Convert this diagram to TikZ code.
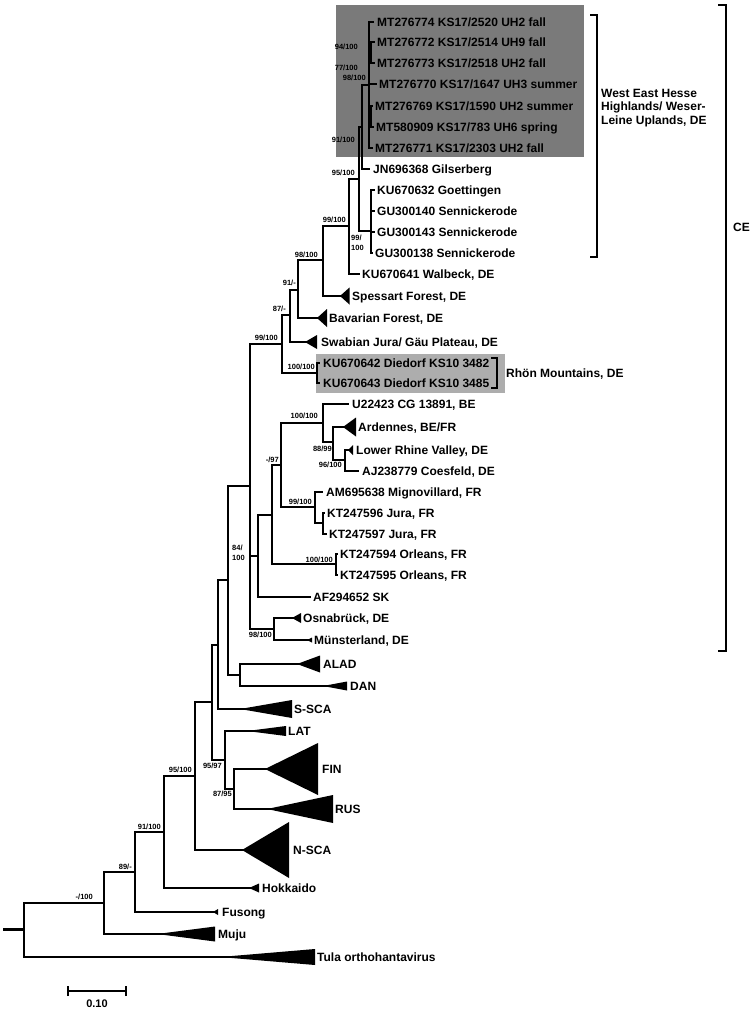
\documentclass[tikz,border=0pt]{standalone}
\usepackage{fontspec}
\setmainfont{Liberation Sans}
\definecolor{boxdark}{gray}{0.48}
\definecolor{boxlight}{gray}{0.68}
\tikzset{
  br/.style={line width=2.9bp, line join=miter},
  lab/.style={anchor=west, inner sep=0pt, font=\fontsize{12bp}{14bp}\selectfont\bfseries, text height=8.6bp, text depth=0pt},
  sv/.style={anchor=east, inner sep=0pt, font=\fontsize{7.5bp}{8bp}\selectfont\bfseries, text height=5.4bp, text depth=0pt},
  svl/.style={sv, anchor=west},
  brk/.style={line width=2.3bp, line join=miter},
  tri/.style={fill=black}
}
\newcommand\cladetri[3]{\fill[tri] (#1) -- ++(#2,-#3) -- ++(0,{2*#3}) -- cycle;
  \draw[br] (#1) -- ++({0.5*#2},0);}
\begin{document}
\begin{tikzpicture}[x=1bp,y=-1bp]
\useasboundingbox (0,0) rectangle (750,1009);
% background boxes
\fill[boxdark] (336,5) rectangle (584,157);
\fill[boxlight] (316,354) rectangle (505,393);
% internal nodes
\coordinate (stem) at (3,929.5);
\coordinate (R) at (24,929.5);
\coordinate (A) at (104,903);
\coordinate (B) at (135,872);
\coordinate (C) at (164,832);
\coordinate (D) at (195,776);
\coordinate (E) at (212,702);
\coordinate (F) at (218,645);
\coordinate (G) at (225,760);
\coordinate (H) at (234,789);
\coordinate (I) at (228,580);
\coordinate (J) at (250,486);
\coordinate (K) at (240,675);
\coordinate (L) at (282,344);
\coordinate (M) at (258,556);
\coordinate (N) at (274,629);
\coordinate (O) at (272,515);
\coordinate (P) at (281,465);
\coordinate (Q) at (336,564);
\coordinate (S) at (323,423);
\coordinate (T) at (315,507);
\coordinate (U) at (323,523);
\coordinate (V) at (333,442);
\coordinate (W) at (345,460);
\coordinate (X) at (290,315);
\coordinate (Y) at (298,290);
\coordinate (Z) at (323,260);
\coordinate (AA) at (349,226);
\coordinate (N95) at (359,179);
\coordinate (N91) at (362,127);
\coordinate (MT) at (369,85);
\coordinate (MTa) at (371,52.5);
\coordinate (MTb) at (371,116.5);
\coordinate (SN) at (371,231);
\coordinate (RH) at (317,373);
% leaf ends / clade tips
\coordinate (tula) at (220,957);
\coordinate (muju) at (157,934);
\coordinate (fus) at (213,912);
\coordinate (hok) at (249,888);
\coordinate (nsca) at (242,850);
\coordinate (lat) at (247,731);
\coordinate (fin) at (265,769);
\coordinate (rus) at (267,809);
\coordinate (ssca) at (240,709);
\coordinate (alad) at (297,664);
\coordinate (dan) at (323,686);
\coordinate (osn) at (292,618);
\coordinate (mun) at (307,640);
\coordinate (af) at (311,597);
\coordinate (orl1) at (338,554);
\coordinate (orl2) at (338,575);
\coordinate (am) at (323,492);
\coordinate (kt6) at (325,513);
\coordinate (kt7) at (327,534);
\coordinate (u22) at (349,404);
\coordinate (ard) at (343,427);
\coordinate (lrv) at (348,450);
\coordinate (coe) at (359,471);
\coordinate (ku2) at (320,363);
\coordinate (ku3) at (320,383);
\coordinate (swab) at (305,342);
\coordinate (bav) at (317,318);
\coordinate (spes) at (340,296);
\coordinate (walb) at (360,274);
\coordinate (gil) at (370,169);
\coordinate (mt1) at (374,22);
\coordinate (mt2) at (375,42);
\coordinate (mt3) at (375,63);
\coordinate (mt4) at (377,84);
\coordinate (mt5) at (373,106);
\coordinate (mt6) at (374,127);
\coordinate (mt7) at (373,148);
\coordinate (sn1) at (375,190);
\coordinate (sn2) at (375,211);
\coordinate (sn3) at (375,232);
\coordinate (sn4) at (373,253);
% branches
\draw[br] (stem) -- (R);
\draw[br] (R) |- (A) (R) |- (tula);
\draw[br] (A) |- (B) (A) |- (muju);
\draw[br] (B) |- (C) (B) |- (fus);
\draw[br] (C) |- (D) (C) |- (hok);
\draw[br] (D) |- (E) (D) |- (nsca);
\draw[br] (E) |- (F) (E) |- (G);
\draw[br] (G) |- (lat) (G) |- (H);
\draw[br] (H) |- (fin) (H) |- (rus);
\draw[br] (F) |- (I) (F) |- (ssca);
\draw[br] (I) |- (J) (I) |- (K);
\draw[br] (K) |- (alad) (K) |- (dan);
\draw[br] (J) |- (L) (J) |- (M) (J) |- (N);
\draw[br] (N) |- (osn) (N) |- (mun);
\draw[br] (M) |- (O) (M) |- (af);
\draw[br] (O) |- (P) (O) |- (Q);
\draw[br] (Q) |- (orl1) (Q) |- (orl2);
\draw[br] (P) |- (S) (P) |- (T);
\draw[br] (T) |- (am) (T) |- (U);
\draw[br] (U) |- (kt6) (U) |- (kt7);
\draw[br] (S) |- (u22) (S) |- (V);
\draw[br] (V) |- (ard) (V) |- (W);
\draw[br] (W) |- (lrv) (W) |- (coe);
\draw[br] (L) |- (X) (L) |- (RH);
\draw[br] (RH) |- (ku2) (RH) |- (ku3);
\draw[br] (X) |- (Y) (X) |- (swab);
\draw[br] (Y) |- (Z) (Y) |- (bav);
\draw[br] (Z) |- (AA) (Z) |- (spes);
\draw[br] (AA) |- (N95) (AA) |- (walb);
\draw[br] (N95) |- (N91) (N95) |- (SN);
\draw[br] (N91) |- (MT) (N91) |- (gil);
\draw[br] (MT) |- (mt1) (MT) |- (MTa) (MT) |- (mt4) (MT) |- (MTb) (MT) |- (mt7);
\draw[br] (MTa) |- (mt2) (MTa) |- (mt3);
\draw[br] (MTb) |- (mt5) (MTb) |- (mt6);
\draw[br] (SN) |- (sn1) (SN) |- (sn2) (SN) |- (sn3) (SN) |- (sn4);
% collapsed clades
\cladetri{tula}{95}{8}
\cladetri{muju}{58}{7.5}
\cladetri{fus}{5}{3}
\cladetri{hok}{10}{4.5}
\cladetri{nsca}{47}{28}
\cladetri{fin}{53}{26}
\cladetri{rus}{66}{14}
\cladetri{lat}{39}{5}
\cladetri{ssca}{52}{9}
\cladetri{alad}{23}{8.5}
\cladetri{dan}{24}{4.5}
\cladetri{osn}{9}{5}
\cladetri{mun}{5}{2.5}
\cladetri{lrv}{5}{5}
\cladetri{ard}{13}{9.5}
\cladetri{swab}{12}{7}
\cladetri{bav}{10}{9}
\cladetri{spes}{9.5}{8.5}
% leaf labels
\node[lab] (lmt1) at (377,22) {MT276774 KS17/2520 UH2 fall};
\node[lab] (lmt2) at (377,42) {MT276772 KS17/2514 UH9 fall};
\node[lab] (lmt3) at (377,63) {MT276773 KS17/2518 UH2 fall};
\node[lab] (lmt4) at (379,84) {MT276770 KS17/1647 UH3 summer};
\node[lab] (lmt5) at (375,106) {MT276769 KS17/1590 UH2 summer};
\node[lab] (lmt6) at (376,127) {MT580909 KS17/783 UH6 spring};
\node[lab] (lmt7) at (375,148) {MT276771 KS17/2303 UH2 fall};
\node[lab] (lgil) at (373,169) {JN696368 Gilserberg};
\node[lab] (lsn1) at (377,190) {KU670632 Goettingen};
\node[lab] (lsn2) at (377,211) {GU300140 Sennickerode};
\node[lab] (lsn3) at (377,232) {GU300143 Sennickerode};
\node[lab] (lsn4) at (375,253) {GU300138 Sennickerode};
\node[lab] (lwalb) at (362,274) {KU670641 Walbeck, DE};
\node[lab] (lspes) at (352,296) {Spessart Forest, DE};
\node[lab] (lbav) at (329,318) {Bavarian Forest, DE};
\node[lab] (lswab) at (321,342) {Swabian Jura/ Gäu Plateau, DE};
\node[lab] (lku2) at (323,363) {KU670642 Diedorf KS10 3482};
\node[lab] (lku3) at (323,383) {KU670643 Diedorf KS10 3485};
\node[lab] (lu22) at (352,404) {U22423 CG 13891, BE};
\node[lab] (lard) at (358,427) {Ardennes, BE/FR};
\node[lab] (llrv) at (356,450) {Lower Rhine Valley, DE};
\node[lab] (lcoe) at (362,471) {AJ238779 Coesfeld, DE};
\node[lab] (lam) at (326,492) {AM695638 Mignovillard, FR};
\node[lab] (lkt6) at (327,513) {KT247596 Jura, FR};
\node[lab] (lkt7) at (329,534) {KT247597 Jura, FR};
\node[lab] (lorl1) at (340,554) {KT247594 Orleans, FR};
\node[lab] (lorl2) at (340,575) {KT247595 Orleans, FR};
\node[lab] (laf) at (313,597) {AF294652 SK};
\node[lab] (losn) at (303,618) {Osnabrück, DE};
\node[lab] (lmun) at (314,640) {Münsterland, DE};
\node[lab] (lalad) at (323,664) {ALAD};
\node[lab] (ldan) at (350,686) {DAN};
\node[lab] (lssca) at (294,709) {S-SCA};
\node[lab] (llat) at (288,731) {LAT};
\node[lab] (lfin) at (322,769) {FIN};
\node[lab] (lrus) at (335,809) {RUS};
\node[lab] (lnsca) at (293,850) {N-SCA};
\node[lab] (lhok) at (262,888) {Hokkaido};
\node[lab] (lfus) at (222,912) {Fusong};
\node[lab] (lmuju) at (218,934) {Muju};
\node[lab] (ltula) at (317,957) {Tula orthohantavirus};
% support values
\node[sv] (s1) at (93,897) {-/100};
\node[sv] (s2) at (132,867) {89/-};
\node[sv] (s3) at (161,827) {91/100};
\node[sv] (s4) at (192,770) {95/100};
\node[sv] (s5) at (222,766) {95/97};
\node[sv] (s6) at (232,794) {87/95};
\node[svl] (s7a) at (232,548) {84/};
\node[svl] (s7b) at (232,558) {100};
\node[sv] (s8) at (272,635) {98/100};
\node[sv] (s9) at (333,560) {100/100};
\node[sv] (s10) at (312,502) {99/100};
\node[sv] (s11) at (279,460) {-/97};
\node[sv] (s12) at (318,416) {100/100};
\node[sv] (s13) at (332,449) {88/99};
\node[sv] (s14) at (342,465) {96/100};
\node[sv] (s15) at (278,338) {99/100};
\node[sv] (s16) at (315,367) {100/100};
\node[sv] (s17) at (286,309) {87/-};
\node[sv] (s18) at (296,283) {91/-};
\node[sv] (s19) at (318,255) {98/100};
\node[sv] (s20) at (346,220) {99/100};
\node[sv] (s21) at (355,173) {95/100};
\node[svl] (s22a) at (351,238) {99/};
\node[svl] (s22b) at (351,248) {100};
\node[sv] (s23) at (355,140) {91/100};
\node[sv] (s24) at (366,78) {98/100};
\node[sv] (s25) at (358,68) {77/100};
\node[sv] (s26) at (358,47) {94/100};
% brackets
\coordinate (wa) at (590,15); \coordinate (wb) at (597,15);
\coordinate (wc) at (597,257); \coordinate (wd) at (590,257);
\draw[brk] (wa) -- (wb) -- (wc) -- (wd);
\node[lab, align=left, text height=, text depth=, font=\fontsize{12bp}{13.5bp}\selectfont\bfseries] (lwest) at (601,108) {West East Hesse\\Highlands/ Weser-\\Leine Uplands, DE};
\coordinate (ca) at (718,5); \coordinate (cb) at (726,5);
\coordinate (cc) at (726,651); \coordinate (cd) at (718,651);
\draw[brk] (ca) -- (cb) -- (cc) -- (cd);
\node[lab] (lce) at (733,227) {CE};
\coordinate (ra) at (491,358); \coordinate (rb) at (497,358);
\coordinate (rc) at (497,388); \coordinate (rd) at (491,388);
\draw[brk] (ra) -- (rb) -- (rc) -- (rd);
\node[lab] (lrhon) at (506,373) {Rhön Mountains, DE};
% scale bar
\coordinate (sb1) at (68,991); \coordinate (sb2) at (126,991);
\draw[line width=2.2bp] (sb1) -- (sb2);
\draw[line width=2.2bp] ([yshift=-5bp]sb1) -- ([yshift=5bp]sb1);
\draw[line width=2.2bp] ([yshift=-5bp]sb2) -- ([yshift=5bp]sb2);
\node[lab, anchor=center, font=\fontsize{11bp}{13bp}\selectfont\bfseries] (lsb) at (97,1003) {0.10};
\end{tikzpicture}
\end{document}
